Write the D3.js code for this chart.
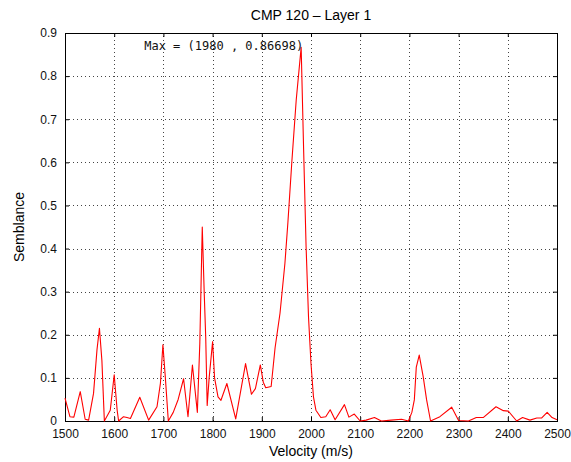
<!DOCTYPE html>
<html>
<head>
<meta charset="utf-8">
<script src="https://cdn.jsdelivr.net/npm/d3@7"></script>
<style>
  body { margin: 0; background: #fff; }
</style>
</head>
<body>
<div id="chart"></div>
<script>
const velocity = [
  1500, 1510, 1518, 1531, 1541, 1548, 1558, 1565, 1570, 1575, 1580, 1592, 1600, 1606, 1609,
  1619, 1626, 1633, 1652, 1670, 1687, 1694, 1699, 1704, 1710, 1720, 1730, 1741, 1750, 1759,
  1769, 1774, 1779, 1783, 1786, 1789, 1793, 1800, 1804, 1811, 1817, 1829, 1847, 1867, 1879,
  1887, 1897, 1903, 1908, 1919, 1927, 1937, 1947, 1953, 1961, 1970, 1980, 1985, 1990, 1995,
  2000, 2005, 2010, 2020, 2030, 2039, 2049, 2068, 2077, 2088, 2100, 2112, 2129, 2143, 2163,
  2184, 2198, 2205, 2210, 2214, 2220, 2228, 2235, 2243, 2262, 2286, 2300, 2320, 2336, 2350,
  2376, 2391, 2401, 2418, 2430, 2445, 2459, 2469, 2480, 2490, 2500
]
const semblance = [
  0.053, 0.01, 0.009, 0.068, 0.004, 0.002, 0.064, 0.165, 0.215, 0.14, 0.0, 0.025, 0.107, 0.025, 0.0,
  0.01, 0.008, 0.006, 0.055, 0.002, 0.033, 0.088, 0.177, 0.1, 0.0, 0.02, 0.05, 0.098, 0.01, 0.13,
  0.02, 0.18, 0.45, 0.296, 0.195, 0.036, 0.1, 0.184, 0.1, 0.056, 0.048, 0.087, 0.005, 0.133, 0.062,
  0.075, 0.13, 0.09, 0.077, 0.08, 0.17, 0.25, 0.366, 0.46, 0.6, 0.745, 0.86698, 0.63, 0.405, 0.24,
  0.133, 0.056, 0.025, 0.008, 0.01, 0.026, 0.003, 0.038, 0.009, 0.016, 0.0, 0.002, 0.008, 0.0, 0.002,
  0.004, 0.0, 0.02, 0.049, 0.125, 0.153, 0.103, 0.049, 0.0, 0.01, 0.032, 0.001, 0.0, 0.008, 0.008,
  0.033, 0.024, 0.023, 0.0, 0.008, 0.002, 0.007, 0.007, 0.02, 0.008, 0.003
]
const xTicks = [1500, 1600, 1700, 1800, 1900, 2000, 2100, 2200, 2300, 2400, 2500]
const yTicks = [0, 0.1, 0.2, 0.3, 0.4, 0.5, 0.6, 0.7, 0.8, 0.9]

const width = 571
const height = 462
const margin = { top: 33, right: 14, bottom: 41, left: 65 }
const SANS = "'Liberation Sans', Arial, sans-serif"
const MONO = "'DejaVu Sans Mono', 'Liberation Mono', monospace"

const svg = d3.select('#chart').append('svg')
  .attr('width', width)
  .attr('height', height)
  .style('font-family', SANS)

const x = d3.scaleLinear([1500, 2500], [margin.left, width - margin.right])
const y = d3.scaleLinear([0, 0.9], [height - margin.bottom, margin.top])

// dotted grid
const grid = svg.append('g')
  .attr('stroke', '#444')
  .attr('stroke-width', 1)
  .attr('stroke-dasharray', '1,3')
grid.selectAll('line.gx')
  .data(xTicks.slice(1, -1))
  .join('line')
  .attr('x1', d => Math.round(x(d)) + 0.5).attr('x2', d => Math.round(x(d)) + 0.5)
  .attr('y1', y(0)).attr('y2', y(0.9))
grid.selectAll('line.gy')
  .data(yTicks.slice(1, -1))
  .join('line')
  .attr('y1', d => Math.round(y(d)) + 0.5).attr('y2', d => Math.round(y(d)) + 0.5)
  .attr('x1', x(1500)).attr('x2', x(2500))

// axes, ticks pointing inward on all four sides
const fmtY = d => d === 0 ? '0' : d3.format('.1f')(d)
const bottom = svg.append('g')
  .attr('transform', `translate(0,${y(0)})`)
  .call(d3.axisBottom(x).tickValues(xTicks).tickSize(-4).tickPadding(8).tickFormat(d3.format('d')))
const left = svg.append('g')
  .attr('transform', `translate(${x(1500)},0)`)
  .call(d3.axisLeft(y).tickValues(yTicks).tickSize(-4).tickPadding(8).tickFormat(fmtY))
svg.append('g')
  .attr('transform', `translate(0,${y(0.9)})`)
  .call(d3.axisTop(x).tickValues(xTicks).tickSize(-4).tickFormat(''))
svg.append('g')
  .attr('transform', `translate(${x(2500)},0)`)
  .call(d3.axisRight(y).tickValues(yTicks).tickSize(-4).tickFormat(''))

svg.selectAll('.domain').remove()
svg.selectAll('.tick line').attr('stroke', '#000')
bottom.selectAll('text').style('font-size', '12px').style('font-family', SANS).attr('fill', '#111')
left.selectAll('text').style('font-size', '12px').style('font-family', SANS).attr('fill', '#111')

// frame
svg.append('rect')
  .attr('x', x(1500) + 0.5).attr('y', y(0.9) + 0.5)
  .attr('width', x(2500) - x(1500)).attr('height', y(0) - y(0.9))
  .attr('fill', 'none').attr('stroke', '#000')

// semblance curve
const line = d3.line()
  .x((d, i) => x(velocity[i]))
  .y(d => y(d))
svg.append('path')
  .datum(semblance)
  .attr('fill', 'none')
  .attr('stroke', '#f00')
  .attr('stroke-width', 1.1)
  .attr('stroke-linejoin', 'round')
  .attr('d', line)

// max annotation
const iMax = d3.maxIndex(semblance)
svg.append('text')
  .attr('x', x(velocity[iMax]) + 2)
  .attr('y', y(0.9) + 17)
  .attr('text-anchor', 'end')
  .style('font-family', MONO)
  .style('font-size', '12px')
  .attr('fill', '#111')
  .text(`Max = (${velocity[iMax]} , ${semblance[iMax]})`)

// titles
svg.append('text')
  .attr('x', (x(1500) + x(2500)) / 2).attr('y', 20)
  .attr('text-anchor', 'middle').style('font-size', '14px')
  .text('CMP 120 – Layer 1')
svg.append('text')
  .attr('x', (x(1500) + x(2500)) / 2).attr('y', 456)
  .attr('text-anchor', 'middle').style('font-size', '14px')
  .text('Velocity (m/s)')
svg.append('text')
  .attr('transform', `translate(24,${(y(0) + y(0.9)) / 2}) rotate(-90)`)
  .attr('text-anchor', 'middle').style('font-size', '14px')
  .text('Semblance')
</script>
</body>
</html>
